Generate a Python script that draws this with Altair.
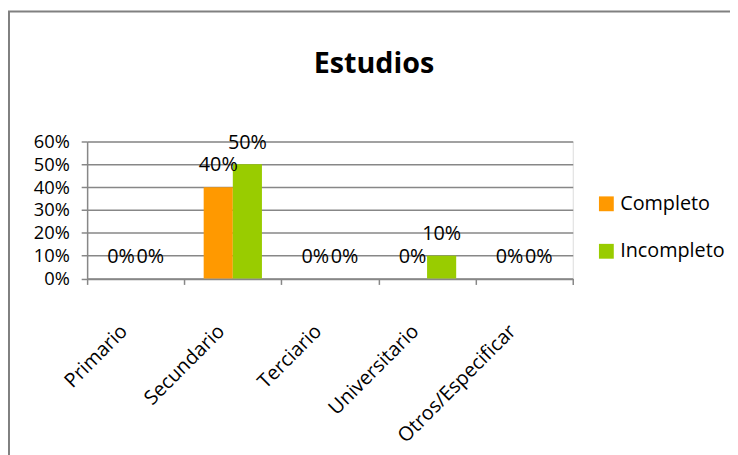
import altair as alt
import pandas as pd

categorias = ["Primario", "Secundario", "Terciario", "Universitario", "Otros/Especificar"]
series = ["Completo", "Incompleto"]
completo = [0.0, 0.40, 0.0, 0.0, 0.0]
incompleto = [0.0, 0.50, 0.0, 0.10, 0.0]
colores = ["#FF9900", "#99CC00"]
y_ticks = [0, 0.1, 0.2, 0.3, 0.4, 0.5, 0.6]
titulo = "Estudios"

rows = []
for c, a, b in zip(categorias, completo, incompleto):
    rows.append({"cat": c, "serie": "Completo", "val": a})
    rows.append({"cat": c, "serie": "Incompleto", "val": b})
df = pd.DataFrame(rows)

FONT = "Open Sans"
GRID = "#878787"

x_enc = alt.X("cat:N", sort=categorias, title=None,
              scale=alt.Scale(paddingInner=0, paddingOuter=0),
              axis=alt.Axis(labelAngle=315, labelAlign="right", labelBaseline="middle",
                            labelOffset=-12, labelPadding=44, labelFontSize=20,
                            labelFont=FONT, labelColor="black", tickBand="extent",
                            tickSize=6, tickColor=GRID, tickWidth=1.5,
                            domainColor=GRID, domainWidth=1.5, grid=False,
                            labelOverlap=False))
xo_enc = alt.XOffset("serie:N", sort=series,
                     scale=alt.Scale(paddingInner=0, paddingOuter=0.667))
y_enc = alt.Y("val:Q", title=None,
              scale=alt.Scale(domain=[0, 0.6], nice=False),
              axis=alt.Axis(values=y_ticks, tickCount=7, format=".0%", labelFontSize=18.5,
                            labelFont=FONT, labelColor="black", labelPadding=12, tickSize=6,
                            tickColor=GRID, tickWidth=1.5, domainColor=GRID,
                            domainWidth=1.5, gridColor=GRID, gridWidth=1.5, gridOpacity=1,
                            labelOverlap=False, labelFlush=False))

bars = alt.Chart(df).mark_bar().encode(
    x=x_enc, xOffset=xo_enc, y=y_enc,
    color=alt.Color("serie:N", sort=series, title=None,
                    scale=alt.Scale(domain=series, range=colores),
                    legend=alt.Legend(orient="none", legendX=515, legendY=53,
                                      labelFontSize=20, labelFont=FONT, labelColor="black",
                                      symbolType="square", symbolSize=225,
                                      symbolStrokeWidth=0, rowPadding=28, padding=0,
                                      labelOffset=4)),
)

labels = alt.Chart(df).mark_text(font=FONT, fontSize=20, color="black",
                                 baseline="middle", dy=-22).encode(
    x=x_enc, xOffset=xo_enc, y=y_enc,
    text=alt.Text("val:Q", format=".0%"),
)

title_mark = alt.Chart(pd.DataFrame({"t": [titulo]})).mark_text(
    font=FONT, fontSize=29, fontWeight="bold", color="black",
    align="center", baseline="alphabetic").encode(
    x=alt.value(290), y=alt.value(-69), text="t:N")

border = alt.Chart(pd.DataFrame({"a": [0]})).mark_rect(
    fill=None, stroke="#808080", strokeWidth=2, clip=False).encode(
    x=alt.value(-79), x2=alt.value(700), y=alt.value(-131.5), y2=alt.value(400))

chart = alt.layer(border, bars, labels, title_mark).properties(
    width=491, height=138.5,
    padding={"left": 80, "top": 132.5, "right": 159, "bottom": 176},
    autosize=alt.AutoSizeParams(type="none"),
).configure_view(stroke=None).configure(background="white")

chart.save("out.html", embed_options={"renderer": "svg", "actions": False})
